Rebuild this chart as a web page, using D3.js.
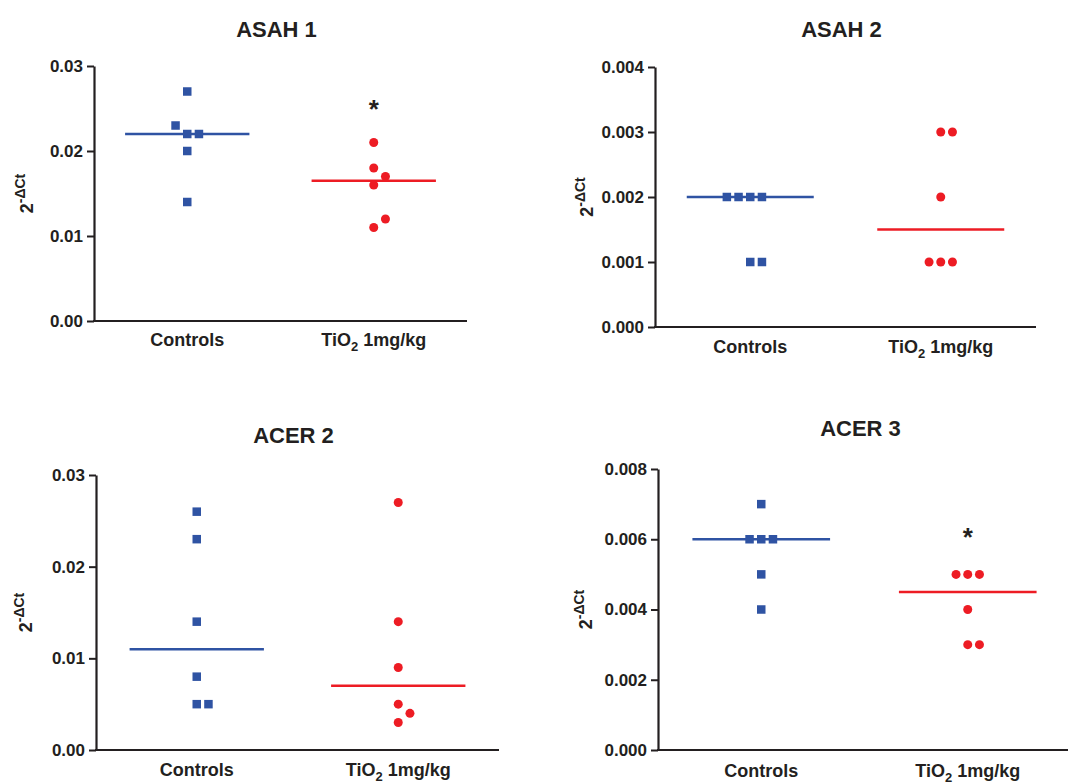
<!DOCTYPE html>
<html>
<head>
<meta charset="utf-8">
<script src="https://cdn.jsdelivr.net/npm/d3@7"></script>
<style>
  body { margin: 0; background: #fff; }
  text { font-family: "Liberation Sans", Arial, sans-serif; font-weight: bold; fill: #231f20; }
</style>
</head>
<body>
<div class="graphic"></div>
<script>
// groups on the x axis
const groups = ["Controls", "TiO2 1mg/kg"];

// values (2^-dCt)
const asah1Controls = [0.027, 0.022, 0.022, 0.023, 0.020, 0.014];
const asah1TiO2 = [0.021, 0.018, 0.016, 0.017, 0.011, 0.012];
const asah1Medians = [0.022, 0.0165];

const asah2Controls = [0.002, 0.002, 0.002, 0.002, 0.001, 0.001];
const asah2TiO2 = [0.003, 0.003, 0.002, 0.001, 0.001, 0.001];
const asah2Medians = [0.002, 0.0015];

const acer2Controls = [0.026, 0.023, 0.014, 0.008, 0.005, 0.005];
const acer2TiO2 = [0.027, 0.014, 0.009, 0.005, 0.003, 0.004];
const acer2Medians = [0.011, 0.007];

const acer3Controls = [0.007, 0.006, 0.006, 0.006, 0.005, 0.004];
const acer3TiO2 = [0.005, 0.005, 0.005, 0.004, 0.003, 0.003];
const acer3Medians = [0.006, 0.0045];

// tick labels
const ticks2dp = [0, 0.01, 0.02, 0.03];
const ticksAsah2 = [0, 0.001, 0.002, 0.003, 0.004];
const ticksAcer3 = [0, 0.002, 0.004, 0.006, 0.008];

// significance marks (value where the * sits, over TiO2)
const asah1Star = 0.0255;
const acer3Star = 0.0062;

const blue = "#2f53a3";
const red = "#ed1c24";
const ink = "#231f20";

// layout of each panel
const panels = [
  { title: "ASAH 1", controls: asah1Controls, tio2: asah1TiO2, medians: asah1Medians, ticks: ticks2dp, fmt: ".2f", star: asah1Star,
    left: 94, right: 467, top: 66, bottom: 321, titleY: 37, catY: 346, labelX: 33 },
  { title: "ASAH 2", controls: asah2Controls, tio2: asah2TiO2, medians: asah2Medians, ticks: ticksAsah2, fmt: ".3f", star: null,
    left: 655, right: 1036, top: 67, bottom: 327, titleY: 37, catY: 353, labelX: 593 },
  { title: "ACER 2", controls: acer2Controls, tio2: acer2TiO2, medians: acer2Medians, ticks: ticks2dp, fmt: ".2f", star: null,
    left: 96, right: 499, top: 475, bottom: 750, titleY: 443, catY: 776, labelX: 32 },
  { title: "ACER 3", controls: acer3Controls, tio2: acer3TiO2, medians: acer3Medians, ticks: ticksAcer3, fmt: ".3f", star: acer3Star,
    left: 658, right: 1071, top: 469, bottom: 750, titleY: 436, catY: 777, labelX: 592 }
];

const svg = d3.select(".graphic")
  .append("svg")
  .attr("width", 1068)
  .attr("height", 783);

// simple column scatter: equal / close values get pushed sideways
const dodge = (values, y) => {
  const order = [0, 1, -1, -2, 2, 3, -3];
  const placed = [];
  return values.map(v => {
    const py = y(v);
    const slot = order.find(s => !placed.some(q => q.slot === s && Math.abs(q.py - py) < 10));
    placed.push({ slot, py });
    return { v, py, slot };
  });
};

const drawPanel = (p) => {
  const g = svg.append("g");

  const y = d3.scaleLinear()
    .domain([0, d3.max(p.ticks)])
    .range([p.bottom, p.top]);

  const x = d3.scalePoint()
    .domain(groups)
    .range([p.left, p.right])
    .padding(0.5);

  const slotW = 11.7;

  // title
  g.append("text")
    .attr("x", (p.left + p.right) / 2 - 4)
    .attr("y", p.titleY)
    .attr("text-anchor", "middle")
    .attr("font-size", 22)
    .text(p.title);

  // y axis label 2^-dCt
  const lab = g.append("text")
    .attr("transform", `translate(${p.labelX},${(p.top + p.bottom) / 2}) rotate(-90)`)
    .attr("text-anchor", "middle");
  lab.append("tspan").attr("font-size", 18).text("2");
  lab.append("tspan").attr("font-size", 14).attr("dy", -8).text("-\u0394Ct");

  // y axis
  const yAxis = g.append("g")
    .attr("transform", `translate(${p.left},0)`)
    .call(d3.axisLeft(y)
      .tickValues(p.ticks)
      .tickFormat(d3.format(p.fmt))
      .tickSize(7)
      .tickSizeOuter(0)
      .tickPadding(4));
  yAxis.select(".domain").attr("stroke", ink).attr("stroke-width", 2.2);
  yAxis.selectAll(".tick line").attr("stroke", ink).attr("stroke-width", 2);
  yAxis.selectAll(".tick text")
    .attr("font-size", 17)
    .attr("font-family", null)
    .attr("fill", ink);

  // x axis
  const xAxis = g.append("g")
    .attr("transform", `translate(0,${p.bottom})`)
    .call(d3.axisBottom(x).tickSize(0).tickSizeOuter(0).tickFormat(""));
  xAxis.select(".domain")
    .attr("d", `M${p.left - 1},0H${p.right}`)
    .attr("stroke", ink)
    .attr("stroke-width", 2.2);

  // category labels, TiO2 with subscript
  groups.forEach(name => {
    const t = g.append("text")
      .attr("x", x(name))
      .attr("y", p.catY)
      .attr("text-anchor", "middle")
      .attr("font-size", 18);
    if (name.startsWith("TiO2")) {
      t.append("tspan").text("TiO");
      t.append("tspan").attr("font-size", 13).attr("dy", 5).text("2");
      t.append("tspan").attr("dy", -5).text(" " + name.slice(5));
    } else {
      t.text(name);
    }
  });

  // median lines
  const half = x.step() / 3;
  g.selectAll(".median")
    .data(groups)
    .join("line")
      .attr("class", "median")
      .attr("x1", d => x(d) - half)
      .attr("x2", d => x(d) + half)
      .attr("y1", (d, i) => y(p.medians[i]))
      .attr("y2", (d, i) => y(p.medians[i]))
      .attr("stroke", (d, i) => i === 0 ? blue : red)
      .attr("stroke-width", 2.5);

  // controls: squares
  const sq = 8.5;
  g.selectAll(".ctrl")
    .data(dodge(p.controls, y))
    .join("rect")
      .attr("class", "ctrl")
      .attr("x", d => x(groups[0]) + d.slot * slotW - sq / 2)
      .attr("y", d => d.py - sq / 2)
      .attr("width", sq)
      .attr("height", sq)
      .attr("fill", blue);

  // TiO2: circles
  g.selectAll(".tio2")
    .data(dodge(p.tio2, y))
    .join("circle")
      .attr("class", "tio2")
      .attr("cx", d => x(groups[1]) + d.slot * slotW)
      .attr("cy", d => d.py)
      .attr("r", 4.5)
      .attr("fill", red);

  if (p.star !== null) {
    g.append("text")
      .attr("x", x(groups[1]))
      .attr("y", y(p.star) + 14)
      .attr("text-anchor", "middle")
      .attr("font-size", 26)
      .text("*");
  }
};

panels.forEach(drawPanel);
</script>
</body>
</html>
